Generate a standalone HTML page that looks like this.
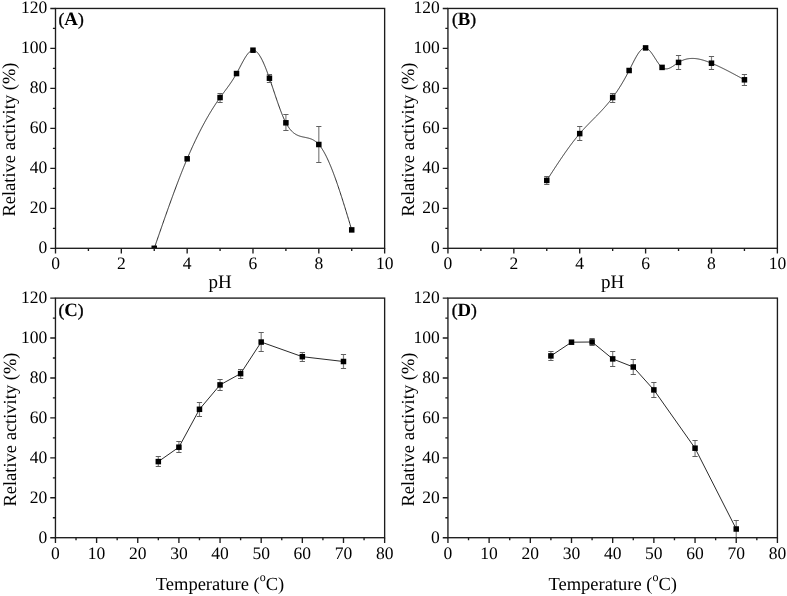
<!DOCTYPE html>
<html><head><meta charset="utf-8"><style>html,body{margin:0;padding:0;background:#fff;overflow:hidden}svg{display:block;will-change:transform}</style></head>
<body><svg text-rendering="geometricPrecision" width="787" height="596" viewBox="0 0 787 596">
<rect width="787" height="596" fill="#fff"/>
<clipPath id="cA"><rect x="55.5" y="8.45" width="329.14" height="239.85"/></clipPath>
<g clip-path="url(#cA)">
<polyline points="154.24,248.30 154.64,247.15 155.03,246.01 155.43,244.86 155.83,243.71 156.22,242.57 156.62,241.42 157.01,240.27 157.41,239.13 157.80,237.98 158.20,236.84 158.60,235.70 158.99,234.55 159.39,233.41 159.78,232.27 160.18,231.13 160.57,229.99 160.97,228.85 161.37,227.71 161.76,226.58 162.16,225.44 162.55,224.31 162.95,223.18 163.34,222.04 163.74,220.91 164.14,219.79 164.53,218.66 164.93,217.53 165.32,216.41 165.72,215.29 166.11,214.17 166.51,213.05 166.91,211.93 167.30,210.82 167.70,209.71 168.09,208.60 168.49,207.49 168.89,206.38 169.28,205.28 169.68,204.18 170.07,203.08 170.47,201.98 170.86,200.89 171.26,199.80 171.66,198.71 172.05,197.62 172.45,196.54 172.84,195.46 173.24,194.38 173.63,193.30 174.03,192.23 174.43,191.16 174.82,190.10 175.22,189.04 175.61,187.98 176.01,186.92 176.40,185.87 176.80,184.82 177.20,183.77 177.59,182.73 177.99,181.69 178.38,180.66 178.78,179.63 179.17,178.60 179.57,177.58 179.97,176.56 180.36,175.54 180.76,174.53 181.15,173.53 181.55,172.52 181.95,171.52 182.34,170.53 182.74,169.54 183.13,168.55 183.53,167.57 183.92,166.60 184.32,165.63 184.72,164.66 185.11,163.70 185.51,162.74 185.90,161.78 186.30,160.84 186.69,159.89 187.09,158.96 187.49,158.02 187.88,157.10 188.28,156.17 188.67,155.25 189.07,154.34 189.46,153.43 189.86,152.53 190.26,151.63 190.65,150.74 191.05,149.86 191.44,148.97 191.84,148.10 192.23,147.22 192.63,146.36 193.03,145.49 193.42,144.63 193.82,143.78 194.21,142.93 194.61,142.09 195.01,141.25 195.40,140.42 195.80,139.59 196.19,138.77 196.59,137.95 196.98,137.13 197.38,136.33 197.78,135.52 198.17,134.72 198.57,133.93 198.96,133.14 199.36,132.35 199.75,131.57 200.15,130.80 200.55,130.02 200.94,129.26 201.34,128.50 201.73,127.74 202.13,126.99 202.52,126.24 202.92,125.49 203.32,124.76 203.71,124.02 204.11,123.29 204.50,122.57 204.90,121.85 205.29,121.13 205.69,120.42 206.09,119.71 206.48,119.01 206.88,118.31 207.27,117.62 207.67,116.93 208.07,116.25 208.46,115.57 208.86,114.89 209.25,114.22 209.65,113.55 210.04,112.89 210.44,112.24 210.84,111.58 211.23,110.93 211.63,110.29 212.02,109.65 212.42,109.01 212.81,108.38 213.21,107.75 213.61,107.13 214.00,106.51 214.40,105.90 214.79,105.29 215.19,104.68 215.58,104.08 215.98,103.48 216.38,102.89 216.77,102.30 217.17,101.71 217.56,101.13 217.96,100.56 218.36,99.98 218.75,99.41 219.15,98.85 219.54,98.29 219.94,97.73 220.33,97.18 220.73,96.63 221.13,96.09 221.52,95.55 221.92,95.01 222.31,94.47 222.71,93.94 223.10,93.40 223.50,92.87 223.90,92.34 224.29,91.81 224.69,91.28 225.08,90.75 225.48,90.22 225.87,89.68 226.27,89.15 226.67,88.61 227.06,88.07 227.46,87.53 227.85,86.99 228.25,86.44 228.64,85.89 229.04,85.33 229.44,84.77 229.83,84.21 230.23,83.64 230.62,83.06 231.02,82.48 231.42,81.89 231.81,81.30 232.21,80.70 232.60,80.09 233.00,79.47 233.39,78.84 233.79,78.21 234.19,77.56 234.58,76.91 234.98,76.25 235.37,75.58 235.77,74.89 236.16,74.20 236.56,73.49 236.96,72.77 237.35,72.05 237.75,71.31 238.14,70.57 238.54,69.82 238.93,69.06 239.33,68.30 239.73,67.54 240.12,66.78 240.52,66.02 240.91,65.26 241.31,64.51 241.70,63.76 242.10,63.01 242.50,62.28 242.89,61.55 243.29,60.83 243.68,60.13 244.08,59.43 244.48,58.76 244.87,58.09 245.27,57.45 245.66,56.82 246.06,56.21 246.45,55.62 246.85,55.06 247.25,54.52 247.64,54.00 248.04,53.52 248.43,53.05 248.83,52.62 249.22,52.22 249.62,51.85 250.02,51.52 250.41,51.22 250.81,50.95 251.20,50.72 251.60,50.54 251.99,50.39 252.39,50.28 252.79,50.22 253.18,50.20 253.58,50.22 253.97,50.29 254.37,50.40 254.76,50.55 255.16,50.75 255.56,50.98 255.95,51.25 256.35,51.57 256.74,51.92 257.14,52.31 257.54,52.73 257.93,53.19 258.33,53.68 258.72,54.21 259.12,54.77 259.51,55.36 259.91,55.98 260.31,56.64 260.70,57.32 261.10,58.03 261.49,58.77 261.89,59.53 262.28,60.33 262.68,61.14 263.08,61.99 263.47,62.85 263.87,63.74 264.26,64.65 264.66,65.58 265.05,66.53 265.45,67.51 265.85,68.50 266.24,69.50 266.64,70.53 267.03,71.57 267.43,72.63 267.82,73.70 268.22,74.78 268.62,75.88 269.01,76.99 269.41,78.11 269.80,79.24 270.20,80.38 270.60,81.52 270.99,82.68 271.39,83.84 271.78,85.01 272.18,86.18 272.57,87.36 272.97,88.54 273.37,89.72 273.76,90.90 274.16,92.09 274.55,93.27 274.95,94.45 275.34,95.63 275.74,96.80 276.14,97.97 276.53,99.13 276.93,100.29 277.32,101.44 277.72,102.58 278.11,103.72 278.51,104.84 278.91,105.95 279.30,107.05 279.70,108.14 280.09,109.21 280.49,110.27 280.89,111.32 281.28,112.34 281.68,113.35 282.07,114.35 282.47,115.32 282.86,116.27 283.26,117.20 283.66,118.11 284.05,119.00 284.45,119.86 284.84,120.70 285.24,121.51 285.63,122.29 286.03,123.05 286.43,123.78 286.82,124.48 287.22,125.16 287.61,125.81 288.01,126.43 288.40,127.03 288.80,127.60 289.20,128.15 289.59,128.68 289.99,129.18 290.38,129.67 290.78,130.13 291.17,130.57 291.57,130.99 291.97,131.39 292.36,131.77 292.76,132.13 293.15,132.47 293.55,132.80 293.95,133.11 294.34,133.40 294.74,133.68 295.13,133.94 295.53,134.19 295.92,134.43 296.32,134.65 296.72,134.86 297.11,135.06 297.51,135.24 297.90,135.42 298.30,135.58 298.69,135.74 299.09,135.88 299.49,136.02 299.88,136.15 300.28,136.27 300.67,136.39 301.07,136.49 301.46,136.60 301.86,136.70 302.26,136.79 302.65,136.88 303.05,136.97 303.44,137.05 303.84,137.13 304.23,137.21 304.63,137.29 305.03,137.37 305.42,137.45 305.82,137.53 306.21,137.62 306.61,137.70 307.01,137.79 307.40,137.88 307.80,137.97 308.19,138.07 308.59,138.18 308.98,138.29 309.38,138.40 309.78,138.52 310.17,138.65 310.57,138.79 310.96,138.94 311.36,139.09 311.75,139.26 312.15,139.43 312.55,139.62 312.94,139.82 313.34,140.03 313.73,140.25 314.13,140.49 314.52,140.74 314.92,141.00 315.32,141.28 315.71,141.58 316.11,141.89 316.50,142.22 316.90,142.56 317.29,142.93 317.69,143.31 318.09,143.71 318.48,144.13 318.88,144.58 319.27,145.04 319.67,145.52 320.07,146.02 320.46,146.55 320.86,147.09 321.25,147.65 321.65,148.24 322.04,148.84 322.44,149.46 322.84,150.10 323.23,150.75 323.63,151.43 324.02,152.12 324.42,152.83 324.81,153.56 325.21,154.30 325.61,155.06 326.00,155.84 326.40,156.64 326.79,157.45 327.19,158.27 327.58,159.11 327.98,159.97 328.38,160.84 328.77,161.73 329.17,162.63 329.56,163.55 329.96,164.48 330.35,165.42 330.75,166.38 331.15,167.35 331.54,168.33 331.94,169.33 332.33,170.34 332.73,171.36 333.13,172.39 333.52,173.43 333.92,174.49 334.31,175.56 334.71,176.64 335.10,177.73 335.50,178.83 335.90,179.94 336.29,181.06 336.69,182.19 337.08,183.33 337.48,184.48 337.87,185.63 338.27,186.80 338.67,187.98 339.06,189.16 339.46,190.35 339.85,191.55 340.25,192.76 340.64,193.97 341.04,195.19 341.44,196.42 341.83,197.65 342.23,198.89 342.62,200.14 343.02,201.39 343.42,202.65 343.81,203.92 344.21,205.18 344.60,206.46 345.00,207.73 345.39,209.02 345.79,210.30 346.19,211.59 346.58,212.88 346.98,214.18 347.37,215.48 347.77,216.78 348.16,218.09 348.56,219.39 348.96,220.70 349.35,222.01 349.75,223.33 350.14,224.64 350.54,225.95 350.93,227.27 351.33,228.58 351.73,229.90" fill="none" stroke="#2a2a2a" stroke-width="1"/>
<path d="M220.07 93.50V102.50" stroke="#808080" stroke-width="1.2" fill="none"/>
<path d="M217.47 93.50h5.2M217.47 102.50h5.2" stroke="#606060" stroke-width="1" fill="none"/>
<path d="M269.44 74.50V82.50" stroke="#808080" stroke-width="1.2" fill="none"/>
<path d="M266.84 74.50h5.2M266.84 82.50h5.2" stroke="#606060" stroke-width="1" fill="none"/>
<path d="M285.90 114.50V130.50" stroke="#808080" stroke-width="1.2" fill="none"/>
<path d="M283.30 114.50h5.2M283.30 130.50h5.2" stroke="#606060" stroke-width="1" fill="none"/>
<path d="M318.81 126.50V162.50" stroke="#808080" stroke-width="1.2" fill="none"/>
<path d="M316.21 126.50h5.2M316.21 162.50h5.2" stroke="#606060" stroke-width="1" fill="none"/>
<rect x="151.49" y="245.55" width="5.5" height="5.5" fill="#000"/>
<rect x="184.41" y="156.05" width="5.5" height="5.5" fill="#000"/>
<rect x="217.32" y="94.80" width="5.5" height="5.5" fill="#000"/>
<rect x="233.78" y="70.80" width="5.5" height="5.5" fill="#000"/>
<rect x="250.23" y="47.45" width="5.5" height="5.5" fill="#000"/>
<rect x="266.69" y="75.45" width="5.5" height="5.5" fill="#000"/>
<rect x="283.15" y="120.05" width="5.5" height="5.5" fill="#000"/>
<rect x="316.06" y="141.75" width="5.5" height="5.5" fill="#000"/>
<rect x="348.98" y="227.15" width="5.5" height="5.5" fill="#000"/>
</g>
<rect x="55.5" y="8.45" width="329.14" height="239.85" fill="none" stroke="#1c1c1c" stroke-width="1.35"/>
<path d="M55.50 248.30h-5.2 M55.50 228.31h-2.6 M55.50 208.33h-5.2 M55.50 188.34h-2.6 M55.50 168.35h-5.2 M55.50 148.36h-2.6 M55.50 128.38h-5.2 M55.50 108.39h-2.6 M55.50 88.40h-5.2 M55.50 68.41h-2.6 M55.50 48.42h-5.2 M55.50 28.44h-2.6 M55.50 8.45h-5.2 M55.50 248.30v5.2 M88.41 248.30v2.6 M121.33 248.30v5.2 M154.24 248.30v2.6 M187.16 248.30v5.2 M220.07 248.30v2.6 M252.98 248.30v5.2 M285.90 248.30v2.6 M318.81 248.30v5.2 M351.73 248.30v2.6 M384.64 248.30v5.2" stroke="#1c1c1c" stroke-width="1.35" fill="none"/>
<text x="47.20" y="253.30" text-anchor="end" font-family='"Liberation Serif", serif' font-size="17.5" fill="#000">0</text>
<text x="47.20" y="213.33" text-anchor="end" font-family='"Liberation Serif", serif' font-size="17.5" fill="#000">20</text>
<text x="47.20" y="173.35" text-anchor="end" font-family='"Liberation Serif", serif' font-size="17.5" fill="#000">40</text>
<text x="47.20" y="133.38" text-anchor="end" font-family='"Liberation Serif", serif' font-size="17.5" fill="#000">60</text>
<text x="47.20" y="93.40" text-anchor="end" font-family='"Liberation Serif", serif' font-size="17.5" fill="#000">80</text>
<text x="47.20" y="53.42" text-anchor="end" font-family='"Liberation Serif", serif' font-size="17.5" fill="#000">100</text>
<text x="47.20" y="13.45" text-anchor="end" font-family='"Liberation Serif", serif' font-size="17.5" fill="#000">120</text>
<text x="55.50" y="269.10" text-anchor="middle" font-family='"Liberation Serif", serif' font-size="17.5" fill="#000">0</text>
<text x="121.33" y="269.10" text-anchor="middle" font-family='"Liberation Serif", serif' font-size="17.5" fill="#000">2</text>
<text x="187.16" y="269.10" text-anchor="middle" font-family='"Liberation Serif", serif' font-size="17.5" fill="#000">4</text>
<text x="252.98" y="269.10" text-anchor="middle" font-family='"Liberation Serif", serif' font-size="17.5" fill="#000">6</text>
<text x="318.81" y="269.10" text-anchor="middle" font-family='"Liberation Serif", serif' font-size="17.5" fill="#000">8</text>
<text x="384.64" y="269.10" text-anchor="middle" font-family='"Liberation Serif", serif' font-size="17.5" fill="#000">10</text>
<text x="58.50" y="24.95" font-family='"Liberation Serif", serif' font-size="17.5" fill="#000" stroke="#000" stroke-width="0.35">(<tspan font-weight="bold" font-size="18.8" stroke-width="0">A</tspan>)</text>
<text x="220.07" y="288.40" text-anchor="middle" font-family='"Liberation Serif", serif' font-size="19" fill="#000">pH</text>
<text transform="translate(15.1,216.6) rotate(-90)" font-family='"Liberation Serif", serif' font-size="18.5" fill="#000">Relative activity (%)</text>
<clipPath id="cB"><rect x="447.94" y="8.45" width="329.44" height="239.85"/></clipPath>
<g clip-path="url(#cB)">
<polyline points="546.77,180.40 547.17,179.79 547.56,179.17 547.96,178.56 548.36,177.95 548.75,177.33 549.15,176.72 549.54,176.11 549.94,175.50 550.34,174.89 550.73,174.28 551.13,173.66 551.53,173.05 551.92,172.44 552.32,171.83 552.71,171.23 553.11,170.62 553.51,170.01 553.90,169.40 554.30,168.80 554.69,168.19 555.09,167.59 555.49,166.99 555.88,166.38 556.28,165.78 556.68,165.18 557.07,164.58 557.47,163.99 557.86,163.39 558.26,162.79 558.66,162.20 559.05,161.61 559.45,161.02 559.84,160.43 560.24,159.84 560.64,159.25 561.03,158.66 561.43,158.08 561.82,157.50 562.22,156.92 562.62,156.34 563.01,155.76 563.41,155.19 563.81,154.61 564.20,154.04 564.60,153.47 564.99,152.90 565.39,152.34 565.79,151.77 566.18,151.21 566.58,150.65 566.97,150.09 567.37,149.54 567.77,148.99 568.16,148.44 568.56,147.89 568.95,147.34 569.35,146.80 569.75,146.26 570.14,145.72 570.54,145.18 570.94,144.65 571.33,144.12 571.73,143.59 572.12,143.07 572.52,142.55 572.92,142.03 573.31,141.51 573.71,141.00 574.10,140.49 574.50,139.98 574.90,139.47 575.29,138.97 575.69,138.47 576.08,137.98 576.48,137.49 576.88,137.00 577.27,136.51 577.67,136.03 578.07,135.55 578.46,135.08 578.86,134.61 579.25,134.14 579.65,133.68 580.05,133.22 580.44,132.76 580.84,132.31 581.23,131.86 581.63,131.41 582.03,130.97 582.42,130.52 582.82,130.09 583.22,129.65 583.61,129.22 584.01,128.79 584.40,128.36 584.80,127.94 585.20,127.51 585.59,127.09 585.99,126.67 586.38,126.26 586.78,125.84 587.18,125.43 587.57,125.02 587.97,124.61 588.36,124.20 588.76,123.79 589.16,123.39 589.55,122.98 589.95,122.58 590.35,122.18 590.74,121.77 591.14,121.37 591.53,120.97 591.93,120.57 592.33,120.17 592.72,119.77 593.12,119.37 593.51,118.97 593.91,118.57 594.31,118.17 594.70,117.77 595.10,117.37 595.49,116.97 595.89,116.56 596.29,116.16 596.68,115.76 597.08,115.35 597.48,114.95 597.87,114.54 598.27,114.13 598.66,113.72 599.06,113.31 599.46,112.90 599.85,112.48 600.25,112.07 600.64,111.65 601.04,111.23 601.44,110.81 601.83,110.38 602.23,109.96 602.62,109.53 603.02,109.09 603.42,108.66 603.81,108.22 604.21,107.78 604.61,107.34 605.00,106.89 605.40,106.44 605.79,105.99 606.19,105.53 606.59,105.07 606.98,104.61 607.38,104.14 607.77,103.67 608.17,103.20 608.57,102.72 608.96,102.23 609.36,101.75 609.76,101.25 610.15,100.76 610.55,100.26 610.94,99.75 611.34,99.24 611.74,98.72 612.13,98.20 612.53,97.68 612.92,97.15 613.32,96.61 613.72,96.07 614.11,95.52 614.51,94.97 614.90,94.41 615.30,93.85 615.70,93.28 616.09,92.70 616.49,92.12 616.89,91.54 617.28,90.95 617.68,90.35 618.07,89.75 618.47,89.14 618.87,88.52 619.26,87.90 619.66,87.28 620.05,86.65 620.45,86.01 620.85,85.37 621.24,84.72 621.64,84.06 622.03,83.40 622.43,82.73 622.83,82.06 623.22,81.38 623.62,80.69 624.02,80.00 624.41,79.30 624.81,78.60 625.20,77.89 625.60,77.17 626.00,76.45 626.39,75.72 626.79,74.99 627.18,74.24 627.58,73.49 627.98,72.74 628.37,71.98 628.77,71.21 629.17,70.44 629.56,69.65 629.96,68.87 630.35,68.08 630.75,67.29 631.15,66.49 631.54,65.70 631.94,64.90 632.33,64.11 632.73,63.33 633.13,62.55 633.52,61.77 633.92,61.00 634.31,60.24 634.71,59.50 635.11,58.76 635.50,58.04 635.90,57.33 636.30,56.63 636.69,55.95 637.09,55.29 637.48,54.65 637.88,54.03 638.28,53.44 638.67,52.86 639.07,52.31 639.46,51.79 639.86,51.29 640.26,50.82 640.65,50.38 641.05,49.97 641.44,49.59 641.84,49.25 642.24,48.94 642.63,48.67 643.03,48.43 643.43,48.24 643.82,48.08 644.22,47.96 644.61,47.89 645.01,47.86 645.41,47.88 645.80,47.94 646.20,48.04 646.59,48.20 646.99,48.39 647.39,48.62 647.78,48.89 648.18,49.20 648.57,49.54 648.97,49.92 649.37,50.32 649.76,50.75 650.16,51.21 650.56,51.70 650.95,52.20 651.35,52.73 651.74,53.27 652.14,53.83 652.54,54.40 652.93,54.99 653.33,55.59 653.72,56.19 654.12,56.81 654.52,57.42 654.91,58.04 655.31,58.66 655.71,59.28 656.10,59.90 656.50,60.51 656.89,61.11 657.29,61.70 657.69,62.28 658.08,62.85 658.48,63.40 658.87,63.94 659.27,64.46 659.67,64.95 660.06,65.43 660.46,65.87 660.85,66.29 661.25,66.69 661.65,67.05 662.04,67.37 662.44,67.67 662.84,67.93 663.23,68.15 663.63,68.35 664.02,68.51 664.42,68.64 664.82,68.74 665.21,68.82 665.61,68.87 666.00,68.89 666.40,68.89 666.80,68.87 667.19,68.82 667.59,68.75 667.98,68.66 668.38,68.55 668.78,68.42 669.17,68.28 669.57,68.12 669.97,67.94 670.36,67.75 670.76,67.54 671.15,67.33 671.55,67.10 671.95,66.86 672.34,66.62 672.74,66.36 673.13,66.10 673.53,65.84 673.93,65.56 674.32,65.29 674.72,65.01 675.11,64.73 675.51,64.45 675.91,64.17 676.30,63.89 676.70,63.62 677.10,63.35 677.49,63.08 677.89,62.82 678.28,62.57 678.68,62.32 679.08,62.08 679.47,61.85 679.87,61.63 680.26,61.42 680.66,61.21 681.06,61.01 681.45,60.83 681.85,60.64 682.25,60.47 682.64,60.31 683.04,60.15 683.43,60.00 683.83,59.86 684.23,59.72 684.62,59.59 685.02,59.47 685.41,59.36 685.81,59.25 686.21,59.15 686.60,59.06 687.00,58.97 687.39,58.89 687.79,58.82 688.19,58.75 688.58,58.69 688.98,58.64 689.38,58.59 689.77,58.55 690.17,58.52 690.56,58.49 690.96,58.47 691.36,58.45 691.75,58.44 692.15,58.43 692.54,58.43 692.94,58.43 693.34,58.45 693.73,58.46 694.13,58.48 694.52,58.51 694.92,58.54 695.32,58.57 695.71,58.62 696.11,58.66 696.51,58.71 696.90,58.77 697.30,58.83 697.69,58.89 698.09,58.96 698.49,59.03 698.88,59.11 699.28,59.19 699.67,59.27 700.07,59.36 700.47,59.45 700.86,59.55 701.26,59.65 701.66,59.75 702.05,59.86 702.45,59.97 702.84,60.08 703.24,60.20 703.64,60.32 704.03,60.44 704.43,60.57 704.82,60.69 705.22,60.83 705.62,60.96 706.01,61.10 706.41,61.23 706.80,61.38 707.20,61.52 707.60,61.66 707.99,61.81 708.39,61.96 708.79,62.12 709.18,62.27 709.58,62.42 709.97,62.58 710.37,62.74 710.77,62.90 711.16,63.06 711.56,63.23 711.95,63.39 712.35,63.56 712.75,63.73 713.14,63.89 713.54,64.06 713.93,64.23 714.33,64.41 714.73,64.58 715.12,64.75 715.52,64.93 715.92,65.11 716.31,65.28 716.71,65.46 717.10,65.64 717.50,65.82 717.90,66.01 718.29,66.19 718.69,66.37 719.08,66.56 719.48,66.75 719.88,66.93 720.27,67.12 720.67,67.31 721.06,67.50 721.46,67.69 721.86,67.88 722.25,68.08 722.65,68.27 723.05,68.46 723.44,68.66 723.84,68.85 724.23,69.05 724.63,69.25 725.03,69.45 725.42,69.65 725.82,69.85 726.21,70.05 726.61,70.25 727.01,70.45 727.40,70.65 727.80,70.86 728.20,71.06 728.59,71.27 728.99,71.47 729.38,71.68 729.78,71.88 730.18,72.09 730.57,72.30 730.97,72.51 731.36,72.72 731.76,72.93 732.16,73.14 732.55,73.35 732.95,73.56 733.34,73.77 733.74,73.98 734.14,74.19 734.53,74.40 734.93,74.62 735.33,74.83 735.72,75.04 736.12,75.26 736.51,75.47 736.91,75.69 737.31,75.90 737.70,76.12 738.10,76.33 738.49,76.55 738.89,76.76 739.29,76.98 739.68,77.19 740.08,77.41 740.47,77.63 740.87,77.84 741.27,78.06 741.66,78.28 742.06,78.50 742.46,78.71 742.85,78.93 743.25,79.15 743.64,79.37 744.04,79.58 744.44,79.80" fill="none" stroke="#2a2a2a" stroke-width="1"/>
<path d="M546.77 176.50V184.50" stroke="#808080" stroke-width="1.2" fill="none"/>
<path d="M544.17 176.50h5.2M544.17 184.50h5.2" stroke="#606060" stroke-width="1" fill="none"/>
<path d="M579.72 126.50V140.50" stroke="#808080" stroke-width="1.2" fill="none"/>
<path d="M577.12 126.50h5.2M577.12 140.50h5.2" stroke="#606060" stroke-width="1" fill="none"/>
<path d="M612.66 93.50V102.50" stroke="#808080" stroke-width="1.2" fill="none"/>
<path d="M610.06 93.50h5.2M610.06 102.50h5.2" stroke="#606060" stroke-width="1" fill="none"/>
<path d="M678.55 55.50V69.50" stroke="#808080" stroke-width="1.2" fill="none"/>
<path d="M675.95 55.50h5.2M675.95 69.50h5.2" stroke="#606060" stroke-width="1" fill="none"/>
<path d="M711.49 56.50V69.50" stroke="#808080" stroke-width="1.2" fill="none"/>
<path d="M708.89 56.50h5.2M708.89 69.50h5.2" stroke="#606060" stroke-width="1" fill="none"/>
<path d="M744.44 74.50V85.50" stroke="#808080" stroke-width="1.2" fill="none"/>
<path d="M741.84 74.50h5.2M741.84 85.50h5.2" stroke="#606060" stroke-width="1" fill="none"/>
<rect x="544.02" y="177.65" width="5.5" height="5.5" fill="#000"/>
<rect x="576.97" y="130.85" width="5.5" height="5.5" fill="#000"/>
<rect x="609.91" y="94.75" width="5.5" height="5.5" fill="#000"/>
<rect x="626.38" y="67.75" width="5.5" height="5.5" fill="#000"/>
<rect x="642.85" y="45.15" width="5.5" height="5.5" fill="#000"/>
<rect x="659.33" y="64.65" width="5.5" height="5.5" fill="#000"/>
<rect x="675.80" y="59.65" width="5.5" height="5.5" fill="#000"/>
<rect x="708.74" y="60.45" width="5.5" height="5.5" fill="#000"/>
<rect x="741.69" y="77.05" width="5.5" height="5.5" fill="#000"/>
</g>
<rect x="447.94" y="8.45" width="329.44" height="239.85" fill="none" stroke="#1c1c1c" stroke-width="1.35"/>
<path d="M447.94 248.30h-5.2 M447.94 228.31h-2.6 M447.94 208.33h-5.2 M447.94 188.34h-2.6 M447.94 168.35h-5.2 M447.94 148.36h-2.6 M447.94 128.38h-5.2 M447.94 108.39h-2.6 M447.94 88.40h-5.2 M447.94 68.41h-2.6 M447.94 48.42h-5.2 M447.94 28.44h-2.6 M447.94 8.45h-5.2 M447.94 248.30v5.2 M480.88 248.30v2.6 M513.83 248.30v5.2 M546.77 248.30v2.6 M579.72 248.30v5.2 M612.66 248.30v2.6 M645.60 248.30v5.2 M678.55 248.30v2.6 M711.49 248.30v5.2 M744.44 248.30v2.6 M777.38 248.30v5.2" stroke="#1c1c1c" stroke-width="1.35" fill="none"/>
<text x="439.64" y="253.30" text-anchor="end" font-family='"Liberation Serif", serif' font-size="17.5" fill="#000">0</text>
<text x="439.64" y="213.33" text-anchor="end" font-family='"Liberation Serif", serif' font-size="17.5" fill="#000">20</text>
<text x="439.64" y="173.35" text-anchor="end" font-family='"Liberation Serif", serif' font-size="17.5" fill="#000">40</text>
<text x="439.64" y="133.38" text-anchor="end" font-family='"Liberation Serif", serif' font-size="17.5" fill="#000">60</text>
<text x="439.64" y="93.40" text-anchor="end" font-family='"Liberation Serif", serif' font-size="17.5" fill="#000">80</text>
<text x="439.64" y="53.42" text-anchor="end" font-family='"Liberation Serif", serif' font-size="17.5" fill="#000">100</text>
<text x="439.64" y="13.45" text-anchor="end" font-family='"Liberation Serif", serif' font-size="17.5" fill="#000">120</text>
<text x="447.94" y="269.10" text-anchor="middle" font-family='"Liberation Serif", serif' font-size="17.5" fill="#000">0</text>
<text x="513.83" y="269.10" text-anchor="middle" font-family='"Liberation Serif", serif' font-size="17.5" fill="#000">2</text>
<text x="579.72" y="269.10" text-anchor="middle" font-family='"Liberation Serif", serif' font-size="17.5" fill="#000">4</text>
<text x="645.60" y="269.10" text-anchor="middle" font-family='"Liberation Serif", serif' font-size="17.5" fill="#000">6</text>
<text x="711.49" y="269.10" text-anchor="middle" font-family='"Liberation Serif", serif' font-size="17.5" fill="#000">8</text>
<text x="777.38" y="269.10" text-anchor="middle" font-family='"Liberation Serif", serif' font-size="17.5" fill="#000">10</text>
<text x="451.94" y="24.95" font-family='"Liberation Serif", serif' font-size="17.5" fill="#000" stroke="#000" stroke-width="0.35">(<tspan font-weight="bold" font-size="18.8" stroke-width="0">B</tspan>)</text>
<text x="612.66" y="288.40" text-anchor="middle" font-family='"Liberation Serif", serif' font-size="19" fill="#000">pH</text>
<text transform="translate(414.2,216.6) rotate(-90)" font-family='"Liberation Serif", serif' font-size="18.5" fill="#000">Relative activity (%)</text>
<clipPath id="cC"><rect x="55.45" y="298.1" width="329.19" height="239.60"/></clipPath>
<g clip-path="url(#cC)">
<polyline points="158.32,461.60 178.90,447.20 199.47,409.30 220.05,384.90 240.62,373.60 261.19,342.05 302.34,356.70 343.49,361.50" fill="none" stroke="#2a2a2a" stroke-width="1"/>
<path d="M158.32 456.50V466.50" stroke="#808080" stroke-width="1.2" fill="none"/>
<path d="M155.72 456.50h5.2M155.72 466.50h5.2" stroke="#606060" stroke-width="1" fill="none"/>
<path d="M178.90 441.50V452.50" stroke="#808080" stroke-width="1.2" fill="none"/>
<path d="M176.30 441.50h5.2M176.30 452.50h5.2" stroke="#606060" stroke-width="1" fill="none"/>
<path d="M199.47 402.50V416.50" stroke="#808080" stroke-width="1.2" fill="none"/>
<path d="M196.87 402.50h5.2M196.87 416.50h5.2" stroke="#606060" stroke-width="1" fill="none"/>
<path d="M220.05 379.50V390.50" stroke="#808080" stroke-width="1.2" fill="none"/>
<path d="M217.45 379.50h5.2M217.45 390.50h5.2" stroke="#606060" stroke-width="1" fill="none"/>
<path d="M240.62 369.50V378.50" stroke="#808080" stroke-width="1.2" fill="none"/>
<path d="M238.02 369.50h5.2M238.02 378.50h5.2" stroke="#606060" stroke-width="1" fill="none"/>
<path d="M261.19 332.50V351.50" stroke="#808080" stroke-width="1.2" fill="none"/>
<path d="M258.59 332.50h5.2M258.59 351.50h5.2" stroke="#606060" stroke-width="1" fill="none"/>
<path d="M302.34 352.50V361.50" stroke="#808080" stroke-width="1.2" fill="none"/>
<path d="M299.74 352.50h5.2M299.74 361.50h5.2" stroke="#606060" stroke-width="1" fill="none"/>
<path d="M343.49 354.50V368.50" stroke="#808080" stroke-width="1.2" fill="none"/>
<path d="M340.89 354.50h5.2M340.89 368.50h5.2" stroke="#606060" stroke-width="1" fill="none"/>
<rect x="155.57" y="458.85" width="5.5" height="5.5" fill="#000"/>
<rect x="176.15" y="444.45" width="5.5" height="5.5" fill="#000"/>
<rect x="196.72" y="406.55" width="5.5" height="5.5" fill="#000"/>
<rect x="217.30" y="382.15" width="5.5" height="5.5" fill="#000"/>
<rect x="237.87" y="370.85" width="5.5" height="5.5" fill="#000"/>
<rect x="258.44" y="339.30" width="5.5" height="5.5" fill="#000"/>
<rect x="299.59" y="353.95" width="5.5" height="5.5" fill="#000"/>
<rect x="340.74" y="358.75" width="5.5" height="5.5" fill="#000"/>
</g>
<rect x="55.45" y="298.1" width="329.19" height="239.60" fill="none" stroke="#1c1c1c" stroke-width="1.35"/>
<path d="M55.45 537.70h-5.2 M55.45 517.73h-2.6 M55.45 497.77h-5.2 M55.45 477.80h-2.6 M55.45 457.83h-5.2 M55.45 437.87h-2.6 M55.45 417.90h-5.2 M55.45 397.93h-2.6 M55.45 377.97h-5.2 M55.45 358.00h-2.6 M55.45 338.03h-5.2 M55.45 318.07h-2.6 M55.45 298.10h-5.2 M55.45 537.70v5.2 M76.02 537.70v2.6 M96.60 537.70v5.2 M117.17 537.70v2.6 M137.75 537.70v5.2 M158.32 537.70v2.6 M178.90 537.70v5.2 M199.47 537.70v2.6 M220.05 537.70v5.2 M240.62 537.70v2.6 M261.19 537.70v5.2 M281.77 537.70v2.6 M302.34 537.70v5.2 M322.92 537.70v2.6 M343.49 537.70v5.2 M364.07 537.70v2.6 M384.64 537.70v5.2" stroke="#1c1c1c" stroke-width="1.35" fill="none"/>
<text x="47.15" y="542.70" text-anchor="end" font-family='"Liberation Serif", serif' font-size="17.5" fill="#000">0</text>
<text x="47.15" y="502.77" text-anchor="end" font-family='"Liberation Serif", serif' font-size="17.5" fill="#000">20</text>
<text x="47.15" y="462.83" text-anchor="end" font-family='"Liberation Serif", serif' font-size="17.5" fill="#000">40</text>
<text x="47.15" y="422.90" text-anchor="end" font-family='"Liberation Serif", serif' font-size="17.5" fill="#000">60</text>
<text x="47.15" y="382.97" text-anchor="end" font-family='"Liberation Serif", serif' font-size="17.5" fill="#000">80</text>
<text x="47.15" y="343.03" text-anchor="end" font-family='"Liberation Serif", serif' font-size="17.5" fill="#000">100</text>
<text x="47.15" y="303.10" text-anchor="end" font-family='"Liberation Serif", serif' font-size="17.5" fill="#000">120</text>
<text x="55.45" y="558.50" text-anchor="middle" font-family='"Liberation Serif", serif' font-size="17.5" fill="#000">0</text>
<text x="96.60" y="558.50" text-anchor="middle" font-family='"Liberation Serif", serif' font-size="17.5" fill="#000">10</text>
<text x="137.75" y="558.50" text-anchor="middle" font-family='"Liberation Serif", serif' font-size="17.5" fill="#000">20</text>
<text x="178.90" y="558.50" text-anchor="middle" font-family='"Liberation Serif", serif' font-size="17.5" fill="#000">30</text>
<text x="220.05" y="558.50" text-anchor="middle" font-family='"Liberation Serif", serif' font-size="17.5" fill="#000">40</text>
<text x="261.19" y="558.50" text-anchor="middle" font-family='"Liberation Serif", serif' font-size="17.5" fill="#000">50</text>
<text x="302.34" y="558.50" text-anchor="middle" font-family='"Liberation Serif", serif' font-size="17.5" fill="#000">60</text>
<text x="343.49" y="558.50" text-anchor="middle" font-family='"Liberation Serif", serif' font-size="17.5" fill="#000">70</text>
<text x="384.64" y="558.50" text-anchor="middle" font-family='"Liberation Serif", serif' font-size="17.5" fill="#000">80</text>
<text x="58.45" y="315.70" font-family='"Liberation Serif", serif' font-size="17.5" fill="#000" stroke="#000" stroke-width="0.35">(<tspan font-weight="bold" font-size="18.8" stroke-width="0">C</tspan>)</text>
<text x="220.04" y="589.60" text-anchor="middle" font-family='"Liberation Serif", serif' font-size="18.5" fill="#000">Temperature (<tspan dy="-9" font-size="12">o</tspan><tspan dy="9">C)</tspan></text>
<text transform="translate(16.1,506.6) rotate(-90)" font-family='"Liberation Serif", serif' font-size="18.5" fill="#000">Relative activity (%)</text>
<clipPath id="cD"><rect x="447.94" y="298.1" width="329.48" height="239.60"/></clipPath>
<g clip-path="url(#cD)">
<polyline points="550.90,355.90 571.50,342.20 592.09,342.00 612.68,358.90 633.27,367.00 653.87,389.90 695.05,448.20 736.23,529.00" fill="none" stroke="#2a2a2a" stroke-width="1"/>
<path d="M550.90 351.50V360.50" stroke="#808080" stroke-width="1.2" fill="none"/>
<path d="M548.30 351.50h5.2M548.30 360.50h5.2" stroke="#606060" stroke-width="1" fill="none"/>
<path d="M592.09 338.50V345.50" stroke="#808080" stroke-width="1.2" fill="none"/>
<path d="M589.49 338.50h5.2M589.49 345.50h5.2" stroke="#606060" stroke-width="1" fill="none"/>
<path d="M612.68 351.50V366.50" stroke="#808080" stroke-width="1.2" fill="none"/>
<path d="M610.08 351.50h5.2M610.08 366.50h5.2" stroke="#606060" stroke-width="1" fill="none"/>
<path d="M633.27 359.50V374.50" stroke="#808080" stroke-width="1.2" fill="none"/>
<path d="M630.67 359.50h5.2M630.67 374.50h5.2" stroke="#606060" stroke-width="1" fill="none"/>
<path d="M653.87 382.50V397.50" stroke="#808080" stroke-width="1.2" fill="none"/>
<path d="M651.26 382.50h5.2M651.26 397.50h5.2" stroke="#606060" stroke-width="1" fill="none"/>
<path d="M695.05 440.50V456.50" stroke="#808080" stroke-width="1.2" fill="none"/>
<path d="M692.45 440.50h5.2M692.45 456.50h5.2" stroke="#606060" stroke-width="1" fill="none"/>
<path d="M736.23 520.50V537.50" stroke="#808080" stroke-width="1.2" fill="none"/>
<path d="M733.63 520.50h5.2M733.63 537.50h5.2" stroke="#606060" stroke-width="1" fill="none"/>
<rect x="548.15" y="353.15" width="5.5" height="5.5" fill="#000"/>
<rect x="568.75" y="339.45" width="5.5" height="5.5" fill="#000"/>
<rect x="589.34" y="339.25" width="5.5" height="5.5" fill="#000"/>
<rect x="609.93" y="356.15" width="5.5" height="5.5" fill="#000"/>
<rect x="630.52" y="364.25" width="5.5" height="5.5" fill="#000"/>
<rect x="651.12" y="387.15" width="5.5" height="5.5" fill="#000"/>
<rect x="692.30" y="445.45" width="5.5" height="5.5" fill="#000"/>
<rect x="733.48" y="526.25" width="5.5" height="5.5" fill="#000"/>
</g>
<rect x="447.94" y="298.1" width="329.48" height="239.60" fill="none" stroke="#1c1c1c" stroke-width="1.35"/>
<path d="M447.94 537.70h-5.2 M447.94 517.73h-2.6 M447.94 497.77h-5.2 M447.94 477.80h-2.6 M447.94 457.83h-5.2 M447.94 437.87h-2.6 M447.94 417.90h-5.2 M447.94 397.93h-2.6 M447.94 377.97h-5.2 M447.94 358.00h-2.6 M447.94 338.03h-5.2 M447.94 318.07h-2.6 M447.94 298.10h-5.2 M447.94 537.70v5.2 M468.53 537.70v2.6 M489.12 537.70v5.2 M509.72 537.70v2.6 M530.31 537.70v5.2 M550.90 537.70v2.6 M571.50 537.70v5.2 M592.09 537.70v2.6 M612.68 537.70v5.2 M633.27 537.70v2.6 M653.87 537.70v5.2 M674.46 537.70v2.6 M695.05 537.70v5.2 M715.64 537.70v2.6 M736.23 537.70v5.2 M756.83 537.70v2.6 M777.42 537.70v5.2" stroke="#1c1c1c" stroke-width="1.35" fill="none"/>
<text x="439.64" y="542.70" text-anchor="end" font-family='"Liberation Serif", serif' font-size="17.5" fill="#000">0</text>
<text x="439.64" y="502.77" text-anchor="end" font-family='"Liberation Serif", serif' font-size="17.5" fill="#000">20</text>
<text x="439.64" y="462.83" text-anchor="end" font-family='"Liberation Serif", serif' font-size="17.5" fill="#000">40</text>
<text x="439.64" y="422.90" text-anchor="end" font-family='"Liberation Serif", serif' font-size="17.5" fill="#000">60</text>
<text x="439.64" y="382.97" text-anchor="end" font-family='"Liberation Serif", serif' font-size="17.5" fill="#000">80</text>
<text x="439.64" y="343.03" text-anchor="end" font-family='"Liberation Serif", serif' font-size="17.5" fill="#000">100</text>
<text x="439.64" y="303.10" text-anchor="end" font-family='"Liberation Serif", serif' font-size="17.5" fill="#000">120</text>
<text x="447.94" y="558.50" text-anchor="middle" font-family='"Liberation Serif", serif' font-size="17.5" fill="#000">0</text>
<text x="489.12" y="558.50" text-anchor="middle" font-family='"Liberation Serif", serif' font-size="17.5" fill="#000">10</text>
<text x="530.31" y="558.50" text-anchor="middle" font-family='"Liberation Serif", serif' font-size="17.5" fill="#000">20</text>
<text x="571.50" y="558.50" text-anchor="middle" font-family='"Liberation Serif", serif' font-size="17.5" fill="#000">30</text>
<text x="612.68" y="558.50" text-anchor="middle" font-family='"Liberation Serif", serif' font-size="17.5" fill="#000">40</text>
<text x="653.87" y="558.50" text-anchor="middle" font-family='"Liberation Serif", serif' font-size="17.5" fill="#000">50</text>
<text x="695.05" y="558.50" text-anchor="middle" font-family='"Liberation Serif", serif' font-size="17.5" fill="#000">60</text>
<text x="736.23" y="558.50" text-anchor="middle" font-family='"Liberation Serif", serif' font-size="17.5" fill="#000">70</text>
<text x="777.42" y="558.50" text-anchor="middle" font-family='"Liberation Serif", serif' font-size="17.5" fill="#000">80</text>
<text x="451.69" y="315.70" font-family='"Liberation Serif", serif' font-size="17.5" fill="#000" stroke="#000" stroke-width="0.35">(<tspan font-weight="bold" font-size="18.8" stroke-width="0">D</tspan>)</text>
<text x="612.68" y="589.60" text-anchor="middle" font-family='"Liberation Serif", serif' font-size="18.5" fill="#000">Temperature (<tspan dy="-9" font-size="12">o</tspan><tspan dy="9">C)</tspan></text>
<text transform="translate(414.2,506.6) rotate(-90)" font-family='"Liberation Serif", serif' font-size="18.5" fill="#000">Relative activity (%)</text>
</svg></body></html>
